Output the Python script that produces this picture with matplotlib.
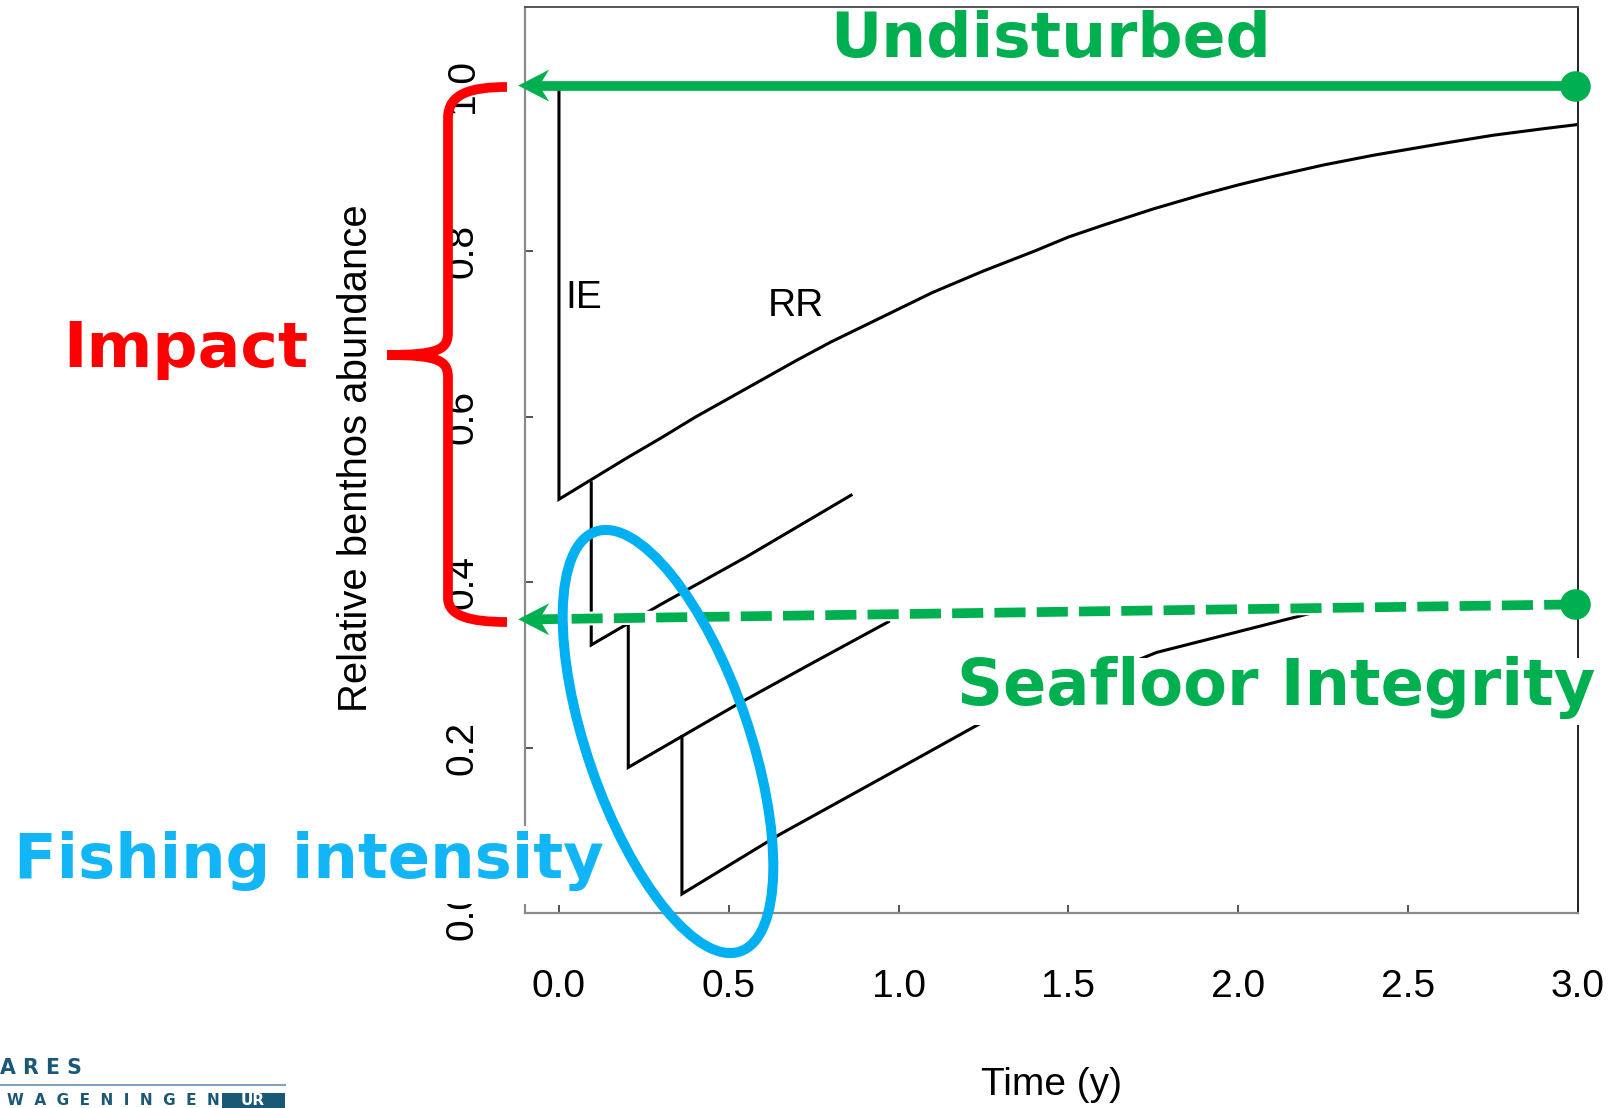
"""Benthos recovery after trawling: impact / recovery sawtooth with slide annotations."""

import matplotlib
matplotlib.use("Agg")
import matplotlib.pyplot as plt
from matplotlib import font_manager
from matplotlib.patches import Ellipse, Rectangle, Polygon, PathPatch
from matplotlib.path import Path

W, H = 1621, 1108

# main recovery curve (drop at t=0, then recovery RR)
rr_t = [0.0, 0.0, 0.1, 0.2, 0.3, 0.4, 0.5, 0.6, 0.7, 0.8, 0.9, 1.0, 1.1, 1.25,
        1.4, 1.5, 1.6, 1.75, 1.9, 2.0, 2.1, 2.25, 2.4, 2.5, 2.6, 2.75, 2.9, 3.0]
rr_y = [1.0, 0.50, 0.525, 0.55, 0.574, 0.599, 0.622, 0.645, 0.668, 0.69, 0.71,
        0.73, 0.75, 0.776, 0.8, 0.817, 0.831, 0.851, 0.869, 0.88, 0.89, 0.904,
        0.916, 0.923, 0.93, 0.94, 0.948, 0.953]

# repeated impacts
c2_t = [0.095, 0.095, 0.3, 0.55, 0.86]
c2_y = [0.52, 0.324, 0.373, 0.43, 0.505]

c3_t = [0.204, 0.204, 0.524, 0.75, 0.97]
c3_y = [0.35, 0.176, 0.252, 0.303, 0.352]

c4_t = [0.362, 0.362, 0.65, 0.95, 1.24, 1.5, 1.76, 2.0, 2.21]
c4_y = [0.213, 0.023, 0.095, 0.163, 0.229, 0.272, 0.315, 0.34, 0.362]

x_ticks = [0.0, 0.5, 1.0, 1.5, 2.0, 2.5, 3.0]
x_tick_labels = ["0.0", "0.5", "1.0", "1.5", "2.0", "2.5", "3.0"]
y_ticks = [0.0, 0.2, 0.4, 0.6, 0.8, 1.0]
y_tick_labels = ["0.0", "0.2", "0.4", "0.6", "0.8", "1.0"]

# reference levels for the arrows
undisturbed_level = 1.0
integrity_left, integrity_right = 0.355, 0.373

GREEN = "#00B050"
RED = "#FF0000"
BLUE = "#00B0F0"
BLUE_TXT = "#12B6F6"
TEAL = "#1B5876"

names = {f.name for f in font_manager.fontManager.ttflist}
NARROW = "Liberation Sans Narrow" if "Liberation Sans Narrow" in names else "Liberation Sans"
tick_size = 33 if NARROW == "Liberation Sans Narrow" else 28

fig = plt.figure(figsize=(W / 100, H / 100), dpi=100)
ax = fig.add_axes([525 / W, 1 - 913 / H, (1578 - 525) / W, (913 - 7) / H])

for t, y in [(rr_t, rr_y), (c2_t, c2_y), (c3_t, c3_y), (c4_t, c4_y)]:
    ax.plot(t, y, color="black", lw=2.2, solid_joinstyle="miter")

ax.set_xlim(-0.1, 3.0)
ax.set_ylim(0.006, 1.095)
ax.set_xticks(x_ticks)
ax.set_xticklabels(x_tick_labels)
ax.set_yticks(y_ticks)
ax.set_yticklabels(y_tick_labels)
ax.tick_params(direction="in", length=6, width=1.3, color="#444444",
               labelsize=tick_size)
ax.tick_params(axis="x", pad=40)
ax.tick_params(axis="y", pad=32, labelrotation=90)
for lab in ax.get_xticklabels() + ax.get_yticklabels():
    lab.set_family(NARROW)
for lab in ax.get_yticklabels():
    lab.set_va("center")

for s in ("left", "bottom"):
    ax.spines[s].set_color("#8a8a8a")
    ax.spines[s].set_linewidth(1.6)
ax.spines["top"].set_color("#555555")
ax.spines["right"].set_color("#222222")
ax.spines["top"].set_linewidth(1.4)
ax.spines["right"].set_linewidth(1.4)

ax.text(0.018, 0.731, "IE", fontsize=28, family="Liberation Sans")
ax.text(0.616, 0.722, "RR", fontsize=28, family="Liberation Sans")
ax.text(-0.1605, 0.502, "Relative benthos abundance", transform=ax.transAxes,
        rotation=90, ha="center", va="center", fontsize=28.8,
        family="Liberation Sans")
ax.text(0.5, -0.19, "Time (y)", transform=ax.transAxes, ha="center",
        va="center", fontsize=tick_size, family=NARROW)

# overlay in pixel coordinates (y down) for the slide annotations
ov = fig.add_axes([0, 0, 1, 1], facecolor="none")
ov.set_xlim(0, W)
ov.set_ylim(H, 0)
ov.axis("off")


def to_px(x, y):
    d = ax.transData.transform((x, y))
    return d[0], H - d[1]


# white boxes behind the labels that cover the plot
ov.add_patch(Rectangle((950, 658), 700, 67, fc="white", ec="none", zorder=1))
ov.add_patch(Rectangle((0, 826), 615, 78, fc="white", ec="none", zorder=1))


def green_arrow(y_left, y_right, dashed):
    x0, y0 = to_px(2.992, y_right)
    x1, y1 = to_px(-0.12, y_left)
    if dashed:
        ov.plot([x0, x1 + 21], [y0, y1], color="white", lw=10,
                solid_capstyle="butt", zorder=2)
        ov.plot([x0, x1 + 21], [y0, y1], color=GREEN, lw=7,
                dashes=(3.2, 1.15), dash_capstyle="butt", zorder=3)
    else:
        ov.plot([x0, x1 + 21], [y0, y1], color=GREEN, lw=7,
                solid_capstyle="butt", zorder=3)
    head = [(x1, y1), (x1 + 31, y1 - 16), (x1 + 21, y1), (x1 + 31, y1 + 16)]
    ov.add_patch(Polygon(head, closed=True, fc=GREEN, ec="none", zorder=3))
    ov.plot(x0, y0, "o", ms=22, color=GREEN, mec="none", zorder=3)


green_arrow(undisturbed_level, undisturbed_level, dashed=False)
green_arrow(integrity_left, integrity_right, dashed=True)

# fishing intensity ellipse
ov.add_patch(Ellipse((668, 741.5), width=162, height=444, angle=-19,
                     fill=False, ec=BLUE, lw=7.2, zorder=4))

# impact brace
verts = [(507, 87), (470, 87), (448, 94), (448, 118),
         (448, 332),
         (448, 349), (440, 355), (387, 355),
         (440, 355), (448, 361), (448, 378),
         (448, 598),
         (448, 616), (470, 622), (507, 622)]
codes = ([Path.MOVETO] + [Path.CURVE4] * 3 + [Path.LINETO] + [Path.CURVE4] * 6
         + [Path.LINETO] + [Path.CURVE4] * 3)
ov.add_patch(PathPatch(Path(verts, codes), fill=False, ec=RED, lw=7,
                       capstyle="butt", zorder=4))

bold = dict(fontweight="bold", family="DejaVu Sans", va="baseline", zorder=5)
ov.text(1051, 57, "Undisturbed", ha="center", fontsize=45.5, color=GREEN, **bold)
ov.text(1276, 705, "Seafloor Integrity", ha="center", fontsize=46, color=GREEN, **bold)
ov.text(186, 367, "Impact", ha="center", fontsize=45.5, color=RED, **bold)
ov.text(309, 878, "Fishing intensity", ha="center", fontsize=45, color=BLUE_TXT, **bold)

# logo, bottom left
ov.text(0, 1074, "A R E S", ha="left", va="baseline", fontsize=14.8,
        fontweight="bold", color=TEAL)
ov.plot([0, 285], [1085, 1085], color="#7FA3B6", lw=1.5)
ov.add_patch(Rectangle((222, 1093), 63, 20, fc=TEAL, ec="none"))
ov.text(7, 1105, "W  A  G  E  N  I  N  G  E  N", ha="left", va="baseline",
        fontsize=11, fontweight="bold", color=TEAL)
ov.text(253, 1105, "UR", ha="center", va="baseline", fontsize=11,
        fontweight="bold", color="white")

fig.savefig("out.png", dpi=100)
plt.close(fig)
